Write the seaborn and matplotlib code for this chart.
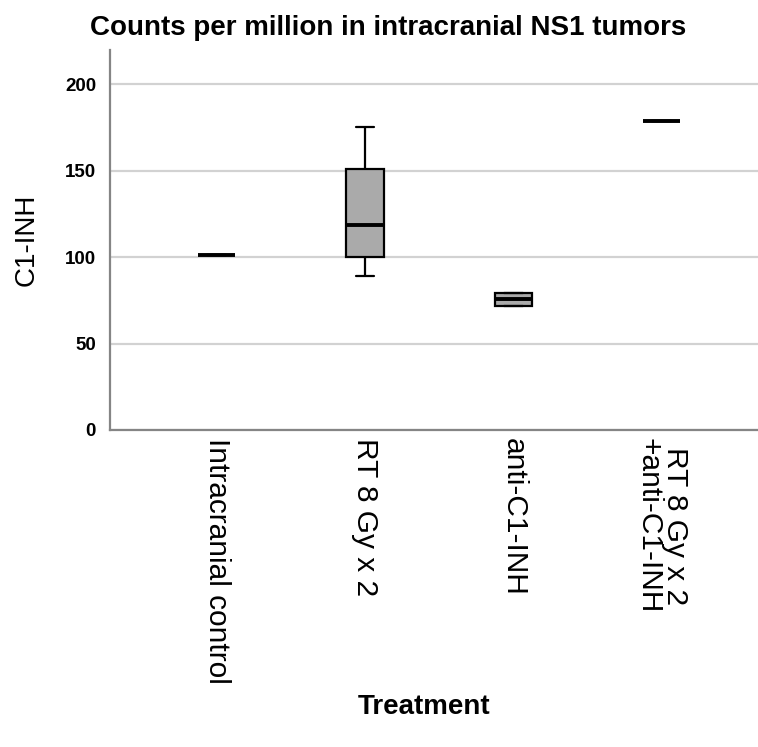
import pandas as pd
import seaborn as sns
import matplotlib.pyplot as plt

# values (counts per million)
groups = ["Intracranial control", "RT 8 Gy x 2", "anti-C1-INH", "RT 8 Gy x 2\n+anti-C1-INH"]
control_vals = [101]
rt_vals = [89, 100, 118.5, 151, 175.5]
anti_vals = [72, 72, 75.5, 79, 79]
combo_vals = [178.5]
y_ticks = [0, 50, 100, 150, 200]

if __name__ == '__main__':
    df = pd.DataFrame({
        "Treatment": [groups[0]] * len(control_vals) + [groups[1]] * len(rt_vals)
                     + [groups[2]] * len(anti_vals) + [groups[3]] * len(combo_vals),
        "C1-INH": control_vals + rt_vals + anti_vals + combo_vals,
    })

    sns.set_style("white")
    plt.rcParams['font.family'] = ['Liberation Sans', 'DejaVu Sans']
    plt.rcParams['text.color'] = 'black'
    plt.rcParams['xtick.color'] = 'black'
    plt.rcParams['ytick.color'] = 'black'
    plt.rcParams['axes.labelcolor'] = 'black'

    fig = plt.figure(figsize=(7.58, 7.47), dpi=100)
    ax = fig.add_axes([0.145, 0.4244, 0.855, 0.509])

    sns.boxplot(data=df, x="Treatment", y="C1-INH", order=groups, ax=ax,
                color="#aaaaaa", saturation=1, width=0.25, linecolor="black",
                linewidth=1.6, showfliers=False,
                medianprops=dict(linewidth=2.8, color="black"), zorder=3)

    ax.set_ylim(0, 220)
    ax.set_xlim(-0.72, 3.65)
    ax.set_yticks(y_ticks)
    ax.set_yticklabels([str(t) for t in y_ticks], fontsize=13.5, fontweight="bold")
    ax.yaxis.grid(True, color="#d2d2d2", linewidth=1.6, zorder=0)
    ax.set_axisbelow(True)
    ax.tick_params(axis="both", length=0)
    ax.tick_params(axis="y", pad=10)
    ax.tick_params(axis="x", pad=6)
    ax.set_xticks(range(len(groups)))
    ax.set_xticklabels(groups, rotation=270, fontsize=21.5, va="top", ha="center",
                       multialignment="center", linespacing=0.95)

    for s in ["top", "right"]:
        ax.spines[s].set_visible(False)
    for s in ["left", "bottom"]:
        ax.spines[s].set_color("#858585")
        ax.spines[s].set_linewidth(1.6)

    ax.set_xlabel("")
    ax.set_ylabel("C1-INH", fontsize=20, labelpad=18)
    fig.text(0.56, 0.054, "Treatment", fontsize=20, fontweight="bold", ha="center", va="center")
    fig.text(0.512, 0.963, "Counts per million in intracranial NS1 tumors",
             fontsize=20, fontweight="bold", ha="center", va="center")

    fig.savefig("out.png", dpi=100)
